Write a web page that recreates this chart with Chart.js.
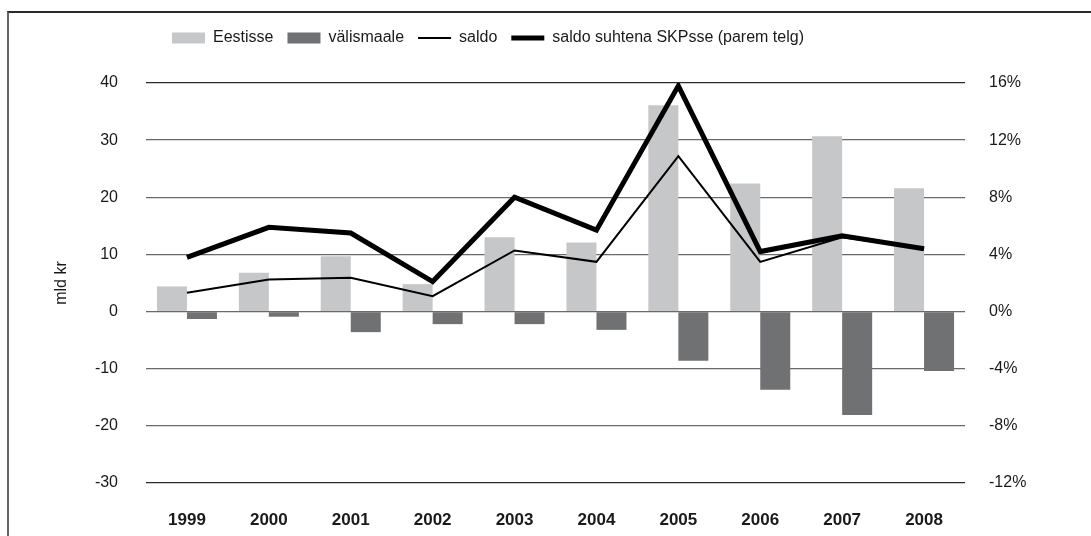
<!DOCTYPE html>
<html>
<head>
<meta charset="utf-8">
<script src="https://cdn.jsdelivr.net/npm/chart.js@4/dist/chart.umd.min.js"></script>
<style>
  body { margin: 0; background: #fff; overflow: hidden; }
  #wrap { position: relative; width: 1091px; height: 536px; overflow: hidden; }
  #frame { position: absolute; left: 7px; top: 11px; width: 1200px; height: 600px;
           border-top: 2px solid #2a2a2a; border-left: 2px solid #666; pointer-events: none; }
</style>
</head>
<body>
<div id="wrap">
  <canvas id="chart"></canvas>
  <div id="frame"></div>
</div>
<script>
var years = ['1999', '2000', '2001', '2002', '2003', '2004', '2005', '2006', '2007', '2008'];
var eestisse = [4.4, 6.8, 9.7, 4.8, 13.0, 12.1, 36.1, 22.4, 30.7, 21.6];
var valismaale = [-1.3, -0.9, -3.6, -2.2, -2.2, -3.2, -8.6, -13.7, -18.1, -10.4];
var saldo = [3.3, 5.6, 5.9, 2.7, 10.7, 8.7, 27.2, 8.7, 13.0, 11.0];
var saldoSkp = [3.8, 5.9, 5.5, 2.1, 8.0, 5.7, 15.8, 4.2, 5.3, 4.4];

var font = "'Liberation Sans', Arial, sans-serif";

// legend needs extra room below it and sits left of centre
var legendSpace = {
    id: 'legendSpace',
    beforeInit: function (chart) {
        var legend = chart.legend;
        var fit = legend.fit;
        legend.fit = function () {
            fit.call(this);
            this.height += 27;
        };
    },
    afterLayout: function (chart) {
        chart.legend.right -= 115;
    }
};

var ctx = document.getElementById('chart');

var chart = new Chart(ctx, {
    data: {
        labels: years,
        datasets: [{
            type: 'bar',
            label: 'Eestisse',
            data: eestisse,
            backgroundColor: '#c6c7c9',
            yAxisID: 'y',
            order: 2
        }, {
            type: 'bar',
            label: 'välismaale',
            data: valismaale,
            backgroundColor: '#707173',
            yAxisID: 'y',
            order: 2
        }, {
            type: 'line',
            label: 'saldo',
            data: saldo,
            borderColor: '#000',
            backgroundColor: '#000',
            borderWidth: 2,
            pointRadius: 0,
            tension: 0,
            yAxisID: 'y',
            order: 1
        }, {
            type: 'line',
            label: 'saldo suhtena SKPsse (parem telg)',
            data: saldoSkp,
            borderColor: '#000',
            backgroundColor: '#000',
            borderWidth: 5,
            pointRadius: 0,
            tension: 0,
            yAxisID: 'y1',
            order: 0
        }]
    },
    options: {
        responsive: true,
        maintainAspectRatio: false,
        animation: false,
        layout: { padding: { top: 16, left: 0, right: 0, bottom: 0 } },
        datasets: {
            bar: { categoryPercentage: 0.733, barPercentage: 1 }
        },
        plugins: {
            tooltip: { enabled: false },
            legend: {
                position: 'top',
                labels: {
                    usePointStyle: true,
                    pointStyleWidth: 33,
                    boxHeight: 11,
                    padding: 14,
                    color: '#1a1a1a',
                    font: { family: font, size: 16 },
                    sort: function (a, b) { return a.datasetIndex - b.datasetIndex; },
                    generateLabels: function (chart) {
                        var items = Chart.defaults.plugins.legend.labels.generateLabels(chart);
                        items.forEach(function (it) {
                            var ds = chart.data.datasets[it.datasetIndex];
                            if (ds.type === 'line') {
                                it.pointStyle = 'line';
                                it.lineWidth = ds.borderWidth;
                                it.strokeStyle = '#000';
                            } else {
                                it.pointStyle = 'rect';
                                it.lineWidth = 0;
                            }
                        });
                        return items;
                    }
                }
            }
        },
        scales: {
            x: {
                grid: { display: false },
                border: { display: false },
                ticks: {
                    padding: 19,
                    color: '#1a1a1a',
                    font: { family: font, size: 17, weight: 'bold' }
                },
                afterFit: function (scale) { scale.height = 53; }
            },
            y: {
                position: 'left',
                min: -30,
                max: 40,
                border: { display: false },
                grid: {
                    drawTicks: false,
                    lineWidth: 1.3,
                    color: function (c) {
                        var v = c.tick ? c.tick.value : 0;
                        return (v === 40 || v === -30) ? '#2a2a2a' : '#6a6a6a';
                    }
                },
                ticks: {
                    stepSize: 10,
                    padding: 28,
                    color: '#1a1a1a',
                    font: { family: font, size: 16 }
                },
                title: {
                    display: true,
                    text: 'mld kr',
                    color: '#1a1a1a',
                    padding: { top: 52, bottom: 0 },
                    font: { family: font, size: 16 }
                },
                afterFit: function (scale) { scale.width = 146; }
            },
            y1: {
                position: 'right',
                min: -12,
                max: 16,
                border: { display: false },
                grid: { display: false, drawTicks: false },
                ticks: {
                    stepSize: 4,
                    padding: 24,
                    color: '#1a1a1a',
                    font: { family: font, size: 16 },
                    callback: function (v) { return v + '%'; }
                },
                afterFit: function (scale) { scale.width = 126; }
            }
        }
    },
    plugins: [legendSpace]
});
</script>
</body>
</html>
